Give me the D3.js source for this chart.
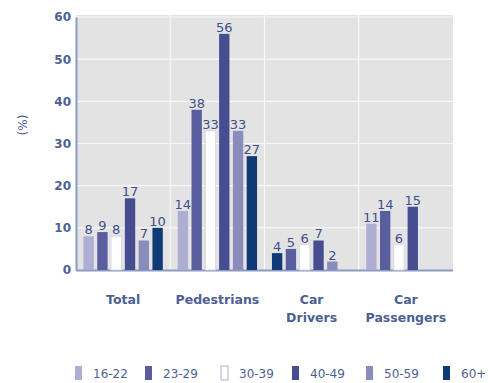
<!DOCTYPE html>
<html><head><meta charset="utf-8">
<script src="https://cdn.jsdelivr.net/npm/d3@7"></script>
<style>
body{margin:0;background:#fff;}
text{font-family:"DejaVu Sans",Verdana,sans-serif;}
</style></head>
<body><svg id="c" width="488" height="383"></svg>
<script>
const categories = ["Total", "Pedestrians", "Car Drivers", "Car Passengers"];
const categoryLines = [["Total"], ["Pedestrians"], ["Car", "Drivers"], ["Car", "Passengers"]];
const series = ["16-22", "23-29", "30-39", "40-49", "50-59", "60+"];
const s1622 = [8, 14, 4, 11];
const s2329 = [9, 38, 5, 14];
const s3039 = [8, 33, 6, 6];
const s4049 = [17, 56, 7, 15];
const s5059 = [7, 33, 2, null];
const s60p  = [10, 27, null, null];
const seriesValues = [s1622, s2329, s3039, s4049, s5059, s60p];
const yTicks = [0, 10, 20, 30, 40, 50, 60];
const colors = ["#aeaed4", "#5a5e9e", "#ffffff", "#474d91", "#8a8cbb", "#0f3a76"];

const svg = d3.select("#c");
const pLeft = 76, pRight = 453, pTop = 17, pBottom = 270;
const x0 = d3.scaleBand().domain(categories).range([pLeft, pRight]);
const x1 = d3.scaleBand().domain(series).range([4, x0.bandwidth() - 4]).padding(0.25);
const y = d3.scaleLinear().domain([0, 60]).range([pBottom, pTop]);

// plot background
svg.append("rect").attr("x", pLeft).attr("y", pTop - 2).attr("width", pRight - pLeft).attr("height", pBottom - pTop + 2).attr("fill", "#e3e3e3");
// grid
svg.append("g").selectAll("line").data(yTicks.filter(d => d > 0)).join("line")
  .attr("x1", pLeft).attr("x2", pRight).attr("y1", d => y(d)).attr("y2", d => y(d))
  .attr("stroke", "#f8f8f8").attr("stroke-width", 1.2);
svg.append("g").selectAll("line").data(categories.slice(1)).join("line")
  .attr("x1", d => x0(d)).attr("x2", d => x0(d)).attr("y1", pTop - 2).attr("y2", pBottom)
  .attr("stroke", "#f8f8f8").attr("stroke-width", 1.2);

// y axis
const yAxis = d3.axisLeft(y).tickValues(yTicks).tickSize(0).tickPadding(5);
const ga = svg.append("g").attr("transform", `translate(${pLeft},0)`).call(yAxis);
ga.select(".domain").attr("stroke", "#8a9cc0").attr("stroke-width", 2);
ga.selectAll("text").attr("font-size", 12).attr("font-weight", "bold").attr("fill", "#4d5f94")
  .attr("font-family", "DejaVu Sans, Verdana, sans-serif");
// x axis line
svg.append("line").attr("x1", pLeft).attr("x2", pRight).attr("y1", pBottom + 0.5).attr("y2", pBottom + 0.5)
  .attr("stroke", "#8a9cc0").attr("stroke-width", 2);

svg.append("text").attr("transform", "translate(23,125) rotate(-90)").attr("text-anchor", "middle")
  .attr("dominant-baseline", "middle").attr("font-size", 12).attr("fill", "#4d5f94").text("(%)");

// bars: in the reference, the first Car Drivers bar is drawn in the 60+ colour
function barColor(ci, si) {
  if (categories[ci] === "Car Drivers" && si === 0) return colors[5];
  return colors[si];
}
const bars = [];
categories.forEach((c, ci) => series.forEach((s, si) => {
  const v = seriesValues[si][ci];
  if (v != null) bars.push({c, s, v, col: barColor(ci, si)});
}));
const g = svg.append("g");
g.selectAll("rect").data(bars).join("rect")
  .attr("x", d => x0(d.c) + x1(d.s)).attr("width", x1.bandwidth())
  .attr("y", d => y(d.v)).attr("height", d => pBottom - y(d.v))
  .attr("fill", d => d.col)
  .attr("stroke", d => d.col === "#ffffff" ? "#d6d6e6" : "none").attr("stroke-width", 0.8);
g.selectAll("text").data(bars).join("text")
  .attr("x", d => x0(d.c) + x1(d.s) + x1.bandwidth() / 2).attr("y", d => y(d.v) - 2)
  .attr("text-anchor", "middle").attr("font-size", 13).attr("fill", "#3f4f8a").text(d => d.v);

// category labels
categories.forEach((c, ci) => {
  const lines = categoryLines[ci];
  const t = svg.append("text").attr("text-anchor", "middle").attr("font-size", 12.5).attr("font-weight", "bold").attr("fill", "#4d5f94");
  lines.forEach((l, li) => {
    t.append("tspan").attr("x", x0(c) + x0.bandwidth() / 2).attr("y", 304 + li * 18).text(l);
  });
});

// legend
const legX = [75, 145, 221, 292, 366, 443];
const lg = svg.append("g").selectAll("g").data(series).join("g")
  .attr("transform", (d, i) => `translate(${legX[i]},366)`);
lg.append("rect").attr("width", 7).attr("height", 14).attr("fill", (d, i) => colors[i])
  .attr("stroke", (d, i) => i === 2 ? "#9aa0c8" : "none").attr("stroke-width", 0.8);
lg.append("text").attr("x", 18).attr("y", 12).attr("font-size", 12).attr("fill", "#4d5f94").text(d => d);
</script></body></html>
